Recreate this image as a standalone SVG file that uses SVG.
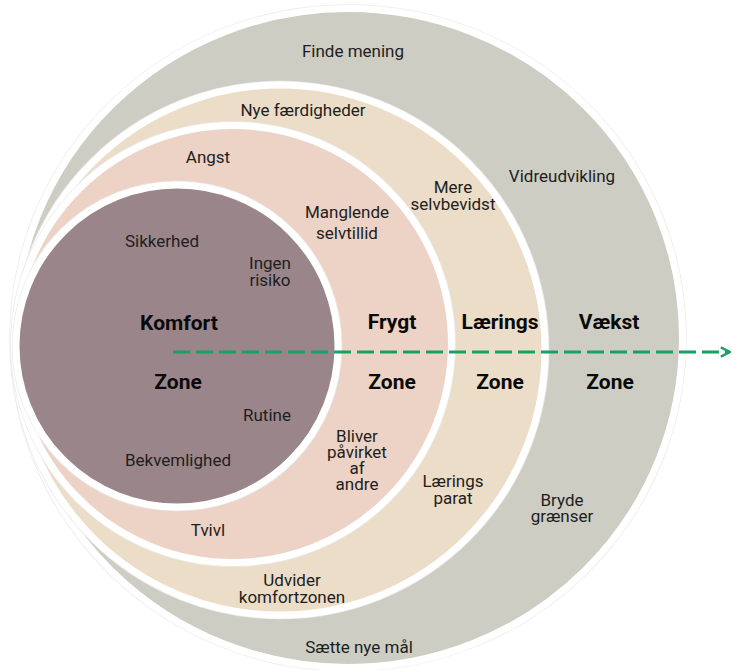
<svg xmlns="http://www.w3.org/2000/svg" width="732" height="670" viewBox="0 0 732 670">
  <defs>
    <style>
      .ring { stroke: #ffffff; stroke-width: 7; }
      .halo { fill: none; stroke: #ececec; stroke-width: 8.6; }
      .lbl { font-family: Roboto, "Liberation Sans", sans-serif; font-size: 17px; fill: #1e1e1e; text-anchor: middle; }
      .zone { font-family: Roboto, "Liberation Sans", sans-serif; font-size: 21px; font-weight: 700; fill: #0a0a0a; text-anchor: middle; }
      .dash { fill: none; stroke: #17a262; stroke-width: 3.2; stroke-dasharray: 17 6; }
    </style>
    <marker id="arrow" viewBox="0 0 10 10" refX="9" refY="5" markerWidth="3.6" markerHeight="3.6" orient="auto" markerUnits="strokeWidth">
      <path d="M1,1 L9,5 L1,9" fill="none" stroke="#17a262" stroke-width="2"/>
    </marker>
  </defs>

  <g id="vaekst-zone">
    <ellipse class="halo" cx="348" cy="338" rx="334.5" ry="329.5"/>
    <ellipse class="ring" cx="348" cy="338" rx="334.5" ry="329.5" fill="#cdcdc4"/>
    <text class="lbl" x="353" y="57">Finde mening</text>
    <text class="lbl" x="562" y="182">Vidreudvikling</text>
    <text class="zone" x="609" y="329">Vækst</text>
    <text class="zone" x="610" y="389">Zone</text>
    <text class="lbl" x="562" y="506">Bryde</text>
    <text class="lbl" x="562" y="522">grænser</text>
    <text class="lbl" x="359" y="653">Sætte nye mål</text>
  </g>

  <g id="laerings-zone">
    <circle class="halo" cx="280" cy="350" r="265"/>
    <circle class="ring" cx="280" cy="350" r="265" fill="#ebddc8"/>
    <text class="lbl" x="303" y="116">Nye færdigheder</text>
    <text class="lbl" x="453" y="193">Mere</text>
    <text class="lbl" x="453" y="210">selvbevidst</text>
    <text class="zone" x="500" y="329">Lærings</text>
    <text class="zone" x="500" y="389">Zone</text>
    <text class="lbl" x="453" y="487">Lærings</text>
    <text class="lbl" x="453" y="504">parat</text>
    <text class="lbl" x="292" y="586">Udvider</text>
    <text class="lbl" x="292" y="603">komfortzonen</text>
  </g>

  <g id="frygt-zone">
    <circle class="halo" cx="233" cy="344" r="218.5"/>
    <circle class="ring" cx="233" cy="344" r="218.5" fill="#ecd3c5"/>
    <text class="lbl" x="208" y="163">Angst</text>
    <text class="lbl" x="347" y="218">Manglende</text>
    <text class="lbl" x="347" y="239">selvtillid</text>
    <text class="zone" x="392" y="329">Frygt</text>
    <text class="zone" x="392" y="389">Zone</text>
    <text class="lbl" x="357" y="442">Bliver</text>
    <text class="lbl" x="357" y="458">påvirket</text>
    <text class="lbl" x="357" y="474">af</text>
    <text class="lbl" x="357" y="490">andre</text>
    <text class="lbl" x="208" y="536">Tvivl</text>
  </g>

  <g id="komfort-zone">
    <circle class="halo" cx="177" cy="346" r="161"/>
    <circle class="ring" cx="177" cy="346" r="161" fill="#9a868a"/>
    <text class="lbl" x="162" y="247">Sikkerhed</text>
    <text class="lbl" x="270" y="269">Ingen</text>
    <text class="lbl" x="270" y="286">risiko</text>
    <text class="zone" x="179" y="330">Komfort</text>
    <text class="zone" x="178" y="389">Zone</text>
    <text class="lbl" x="267" y="421">Rutine</text>
    <text class="lbl" x="178" y="466">Bekvemlighed</text>
  </g>

  <g id="connectors">
    <path class="dash" d="M173,352 L730,352" marker-end="url(#arrow)"/>
  </g>
</svg>
